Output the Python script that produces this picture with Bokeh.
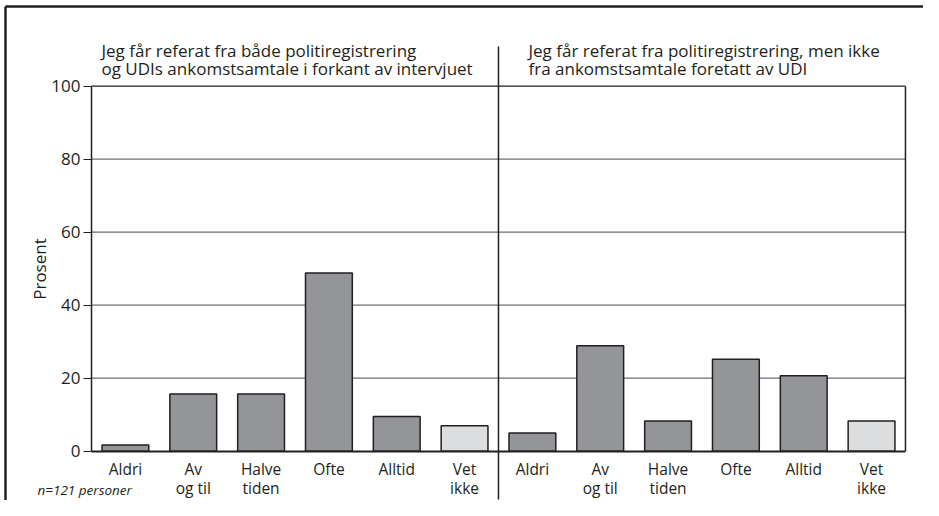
from bokeh.plotting import figure
from bokeh.models import LinearAxis, FixedTicker, Range1d, ColumnDataSource
from bokeh.core.properties import value
from bokeh.embed import file_html
from bokeh.resources import INLINE

# ---- data ----
categories = ["Aldri", "Av og til", "Halve tiden", "Ofte", "Alltid", "Vet ikke"]
tick_labels = ["Aldri", "Av\nog til", "Halve\ntiden", "Ofte", "Alltid", "Vet\nikke"]
left_values = [1.7, 15.7, 15.7, 48.8, 9.5, 7.0]
right_values = [5.0, 28.9, 8.3, 25.2, 20.7, 8.3]
y_ticks = [0, 20, 40, 60, 80, 100]
left_header = ["Jeg får referat fra både politiregistrering",
               "og UDIs ankomstsamtale i forkant av intervjuet"]
right_header = ["Jeg får referat fra politiregistrering, men ikke",
                "fra ankomstsamtale foretatt av UDI"]
note = "n=121 personer"

# ---- layout constants (pixels in the figure) ----
W, H = 923, 500
PX_X0, PX_PER_X = 91.0, 67.83     # data x=0 at px 91
PX_Y0, PX_PER_Y = 450.7, 3.65     # data y=0 at px 450.7

def dx(px):
    return (px - PX_X0) / PX_PER_X

def dy(py):
    return (PX_Y0 - py) / PX_PER_Y

INK = "#231f20"
FONT = "Open Sans"

p = figure(width=W, height=H, output_backend="svg", toolbar_location=None,
           x_axis_type=None, y_axis_type=None, min_border=0,
           x_range=Range1d(dx(0), dx(W)),
           y_range=Range1d(dy(H), dy(0)))
p.outline_line_color = None
p.xgrid.visible = False
p.ygrid.visible = False
p.background_fill_color = "white"
p.border_fill_color = "white"

n = len(categories)
ncat_total = 2 * n

# gridlines
grid_y = y_ticks[1:]
p.segment(x0=[0] * len(grid_y), x1=[ncat_total] * len(grid_y), y0=grid_y, y1=grid_y,
          line_color=["#6d6e71"] * (len(grid_y) - 1) + [INK], line_width=1.3)

# bars
xs, tops, fills = [], [], []
for g, vals in enumerate([left_values, right_values]):
    for i, v in enumerate(vals):
        xs.append(g * n + i + 0.5)
        tops.append(v)
        fills.append("#dcddde" if categories[i] == "Vet ikke" else "#939598")
src = ColumnDataSource(dict(x=xs, top=tops, fill=fills))
p.vbar(x="x", top="top", bottom=0, width=0.69, source=src, fill_color="fill",
       line_color=INK, line_width=1.5)

# right border of plot area
p.segment(x0=[ncat_total], x1=[ncat_total], y0=[0], y1=[100], line_color=INK, line_width=1.5)

# divider between panels
p.segment(x0=[n], x1=[n], y0=[dy(499)], y1=[dy(46)], line_color=INK, line_width=1.5)

# outer frame (left and top)
p.segment(x0=[dx(5), dx(5)], x1=[dx(5), dx(W)],
          y0=[dy(H), dy(6)], y1=[dy(6), dy(6)],
          line_color=INK, line_width=2.5)

# axes
yaxis = LinearAxis(fixed_location=0, bounds=(0, 100),
                   ticker=FixedTicker(ticks=y_ticks), axis_label="Prosent")
yaxis.axis_line_color = INK
yaxis.axis_line_width = 1.5
yaxis.major_tick_line_color = INK
yaxis.major_tick_line_width = 1.2
yaxis.major_tick_in = 0
yaxis.major_tick_out = 8
yaxis.minor_tick_line_color = None
yaxis.major_label_text_font = FONT
yaxis.major_label_text_font_size = "17px"
yaxis.major_label_text_color = INK
yaxis.major_label_standoff = 3
yaxis.axis_label_text_font = FONT
yaxis.axis_label_text_font_size = "17px"
yaxis.axis_label_text_font_style = "normal"
yaxis.axis_label_text_color = INK
yaxis.axis_label_standoff = -3
p.add_layout(yaxis, "left")

tick_pos = [g * n + i + 0.5 for g in range(2) for i in range(n)]
xaxis = LinearAxis(fixed_location=0, bounds=(0, ncat_total),
                   ticker=FixedTicker(ticks=tick_pos))
xaxis.major_label_overrides = {t: tick_labels[k % n] for k, t in enumerate(tick_pos)}
xaxis.axis_line_color = INK
xaxis.axis_line_width = 2
xaxis.major_tick_line_color = None
xaxis.minor_tick_line_color = None
xaxis.major_label_text_font = FONT
xaxis.major_label_text_font_size = "15.5px"
xaxis.major_label_text_color = INK
xaxis.major_label_text_line_height = 0.85
xaxis.major_label_standoff = 1
p.add_layout(xaxis, "below")

# panel headers
for x_px, lines in [(101, left_header), (528, right_header)]:
    p.text(x=[dx(x_px)] * 2, y=[dy(50), dy(68)], text=lines,
           text_font=value(FONT), text_font_size="17px", text_color=INK,
           text_baseline="alphabetic", text_align="left")

# note
p.text(x=[dx(37)], y=[dy(489)], text=[note], text_font=value(FONT),
       text_font_size="13.5px", text_font_style="italic", text_color=INK,
       text_baseline="alphabetic", text_align="left")

open("out.html", "w").write(file_html(p, INLINE))
